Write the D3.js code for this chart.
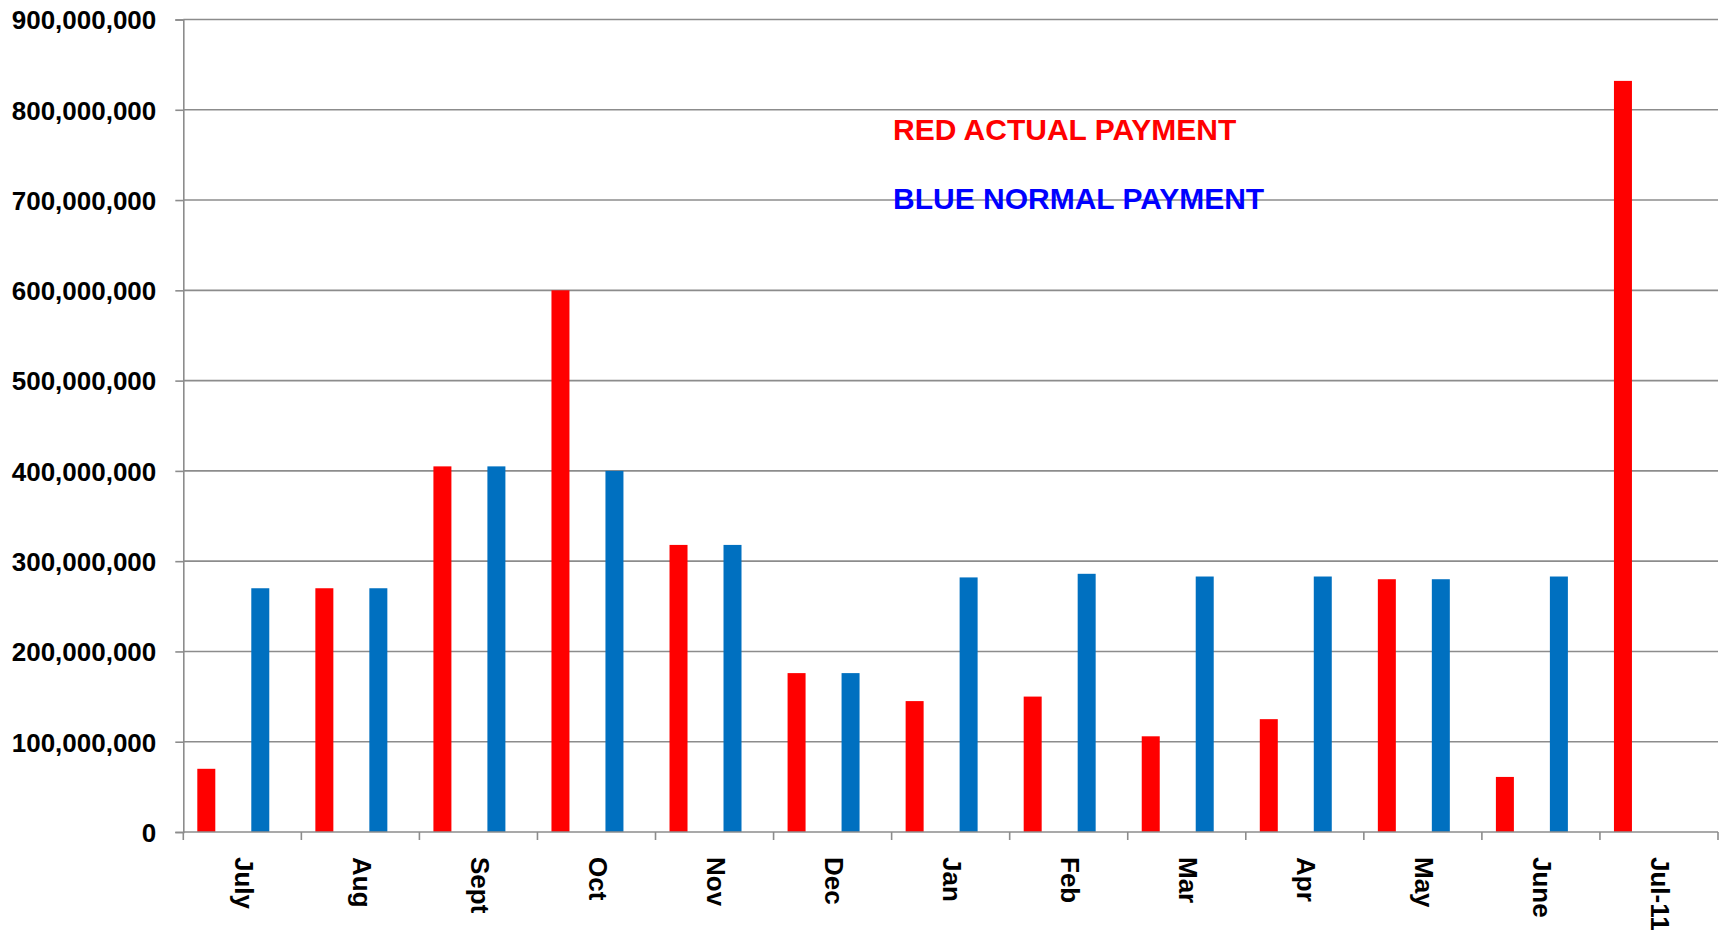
<!DOCTYPE html>
<html>
<head>
<meta charset="utf-8">
<script src="https://cdn.jsdelivr.net/npm/d3@7"></script>
<style>
  html, body { margin: 0; padding: 0; background: #fff; }
  svg { display: block; }
  text { font-family: "Liberation Sans", Arial, sans-serif; font-weight: bold; }
</style>
</head>
<body>
<svg id="chart" width="1723" height="932"></svg>
<script>
// ---- data ----
const categories = ["July", "Aug", "Sept", "Oct", "Nov", "Dec", "Jan", "Feb", "Mar", "Apr", "May", "June", "Jul-11"];
const actualPayment = [70e6, 270e6, 405e6, 600e6, 318e6, 176e6, 145e6, 150e6, 106e6, 125e6, 280e6, 61e6, 832e6];
const normalPayment = [270e6, 270e6, 405e6, 400e6, 318e6, 176e6, 282e6, 286e6, 283e6, 283e6, 280e6, 283e6, null];
const yTicks = [0, 100e6, 200e6, 300e6, 400e6, 500e6, 600e6, 700e6, 800e6, 900e6];
const legendLabels = ["RED ACTUAL PAYMENT", "BLUE NORMAL PAYMENT"];
const legendColors = ["#FF0000", "#0000FF"];
const seriesKeys = ["actual", "normal"];
const seriesColors = ["#FF0000", "#0070C0"];

// ---- layout ----
const mLeft = 183.3, mRight = 1718, mTop = 19.5, mBottom = 832;
const svg = d3.select("#chart");
const gridColor = "#8c8c8c";

const x = d3.scaleBand().domain(categories).range([mLeft, mRight]).padding(0);
const slots = ["actual", "_g1", "_g2", "normal"];
const xSub = d3.scaleBand().domain(slots).range([0, x.bandwidth()])
  .paddingInner(0).paddingOuter(1.28).align(0.304);
const y = d3.scaleLinear().domain([0, 900e6]).range([mBottom, mTop]);

// gridlines
svg.append("g").selectAll("line").data(yTicks.filter(d => d > 0)).join("line")
  .attr("x1", mLeft).attr("x2", mRight)
  .attr("y1", d => y(d)).attr("y2", d => y(d))
  .attr("stroke", gridColor).attr("stroke-width", 1.6);

// bars
const series = [actualPayment, normalPayment];
const barData = [];
categories.forEach((c, i) => {
  seriesKeys.forEach((k, j) => {
    const v = series[j][i];
    if (v != null) barData.push({ c, k, v, color: seriesColors[j] });
  });
});
svg.append("g").selectAll("rect").data(barData).join("rect")
  .attr("x", d => x(d.c) + xSub(d.k))
  .attr("width", xSub.bandwidth())
  .attr("y", d => y(d.v))
  .attr("height", d => y(0) - y(d.v))
  .attr("fill", d => d.color);

// y axis
const yAxis = d3.axisLeft(y).tickValues(yTicks).tickFormat(d3.format(",")).tickSize(8).tickPadding(19);
const gy = svg.append("g").attr("transform", `translate(${mLeft},0)`).call(yAxis);
gy.select(".domain").attr("stroke", gridColor).attr("stroke-width", 1.6);
gy.selectAll(".tick line").attr("stroke", gridColor).attr("stroke-width", 1.6);
gy.selectAll(".tick text").attr("fill", "#000").style("font-size", "26px")
  .style("font-family", '"Liberation Sans", Arial, sans-serif').style("font-weight", "bold")
  .attr("dy", "0.36em");

// x axis
const gx = svg.append("g").attr("transform", `translate(0,${mBottom})`);
gx.append("line").attr("x1", mLeft).attr("x2", mRight).attr("y1", 0).attr("y2", 0)
  .attr("stroke", gridColor).attr("stroke-width", 1.6);
const tickPos = categories.map(c => x(c)).concat([mRight]);
gx.selectAll("line.tk").data(tickPos).join("line").attr("class", "tk")
  .attr("x1", d => d).attr("x2", d => d).attr("y1", 0).attr("y2", 8)
  .attr("stroke", gridColor).attr("stroke-width", 1.6);
gx.selectAll("text").data(categories).join("text")
  .attr("transform", d => `translate(${x(d) + x.bandwidth() / 2},25) rotate(90)`)
  .attr("dy", "0.3em")
  .attr("text-anchor", "start")
  .style("font-size", "26px")
  .attr("fill", "#000")
  .text(d => d);

// legend texts
svg.append("g").selectAll("text").data(legendLabels).join("text")
  .attr("x", 893)
  .attr("y", (d, i) => 140 + i * 69)
  .attr("fill", (d, i) => legendColors[i])
  .style("font-size", "30px")
  .text(d => d);
</script>
</body>
</html>
